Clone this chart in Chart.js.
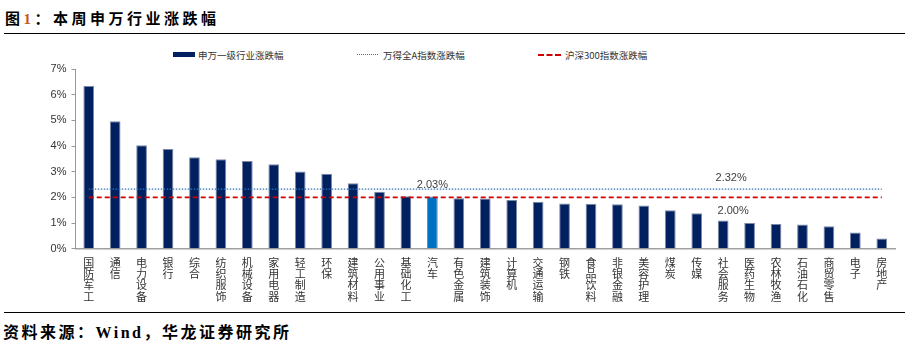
<!DOCTYPE html>
<html>
<head>
<meta charset="utf-8">
<script src="https://cdn.jsdelivr.net/npm/chart.js@4.4.1/dist/chart.umd.min.js"></script>
<style>
    body { margin: 0; background: #fff; width: 911px; height: 351px; overflow: hidden; position: relative; font-family: "Noto Sans CJK SC", sans-serif; }
    .title { position: absolute; left: 5px; top: 6px; font-size: 15px; font-weight: 700; letter-spacing: 3.5px; color: #000; line-height: 24px; }
    .title span { color: #C55A11; font-family: "Liberation Serif", serif; }
    .rule { position: absolute; left: 4px; width: 901px; height: 1.5px; background: #000; }
    .source { position: absolute; left: 3px; top: 320px; font-size: 16px; font-weight: 700; letter-spacing: 2.5px; line-height: 22px; color: #000; }
    .source b { font-family: "Liberation Serif", serif; }
    .legend { position: absolute; font-size: 9.5px; color: #333; line-height: 12px; top: 49px; }
    .mark { position: absolute; }
    #wrap { position: absolute; left: 0; top: 40px; width: 911px; height: 272px; }
</style>
</head>
<body>
<div class="title">图<span>1</span>：本周申万行业涨跌幅</div>
<div class="rule" style="top:32.5px"></div>

<div class="mark" style="left:173px; top:52px; width:22px; height:5px; background:#002060"></div>
<div class="legend" style="left:198px">申万一级行业涨跌幅</div>
<div class="mark" style="left:357px; top:54px; width:21px; border-top:1.5px dotted #2E75B6"></div>
<div class="legend" style="left:383px">万得全A指数涨跌幅</div>
<div class="mark" style="left:538px; top:54px; width:23px; border-top:2px dashed #D00000"></div>
<div class="legend" style="left:565px">沪深300指数涨跌幅</div>

<div id="wrap"><canvas id="industryChart"></canvas></div>

<div class="rule" style="top:311.5px"></div>
<div class="source">资料来源：<b>Wind</b>，华龙证券研究所</div>

<script>
// 申万一级行业
const categories = ['国防军工', '通信', '电力设备', '银行', '综合', '纺织服饰', '机械设备', '家用电器',
    '轻工制造', '环保', '建筑材料', '公用事业', '基础化工', '汽车', '有色金属', '建筑装饰', '计算机',
    '交通运输', '钢铁', '食品饮料', '非银金融', '美容护理', '煤炭', '传媒', '社会服务', '医药生物',
    '农林牧渔', '石油石化', '商贸零售', '电子', '房地产'];

// 本周涨跌幅 (%)
const changes = [6.34, 4.96, 4.03, 3.88, 3.56, 3.48, 3.42, 3.29, 3.01, 2.92, 2.55, 2.22, 2.04, 2.03,
    1.97, 1.96, 1.90, 1.83, 1.76, 1.75, 1.73, 1.68, 1.50, 1.38, 1.10, 1.00, 0.96, 0.94, 0.87, 0.63, 0.40];

// 指数涨跌幅 (%)
const windA = 2.32;
const hs300 = 2.00;

const yTicks = [0, 1, 2, 3, 4, 5, 6, 7];
const highlight = '汽车';

const navy = '#002060';
const blue = '#0070C0';

/**
 * 画数据标签（汽车柱子、两条指数线）
 */
const labelPlugin = {
    id: 'valueLabels',
    afterDatasetsDraw(chart) {
        const { ctx, scales: { x, y } } = chart;
        const idx = categories.indexOf(highlight);
        ctx.save();
        ctx.font = '11px "Liberation Sans", Arial, sans-serif';
        ctx.fillStyle = '#404040';
        ctx.textAlign = 'center';
        ctx.textBaseline = 'middle';
        ctx.fillText(changes[idx].toFixed(2) + '%', x.getPixelForValue(idx), y.getPixelForValue(changes[idx]) - 12);
        ctx.fillText(windA.toFixed(2) + '%', x.getPixelForValue(24) + 8, y.getPixelForValue(windA) - 11.5);
        ctx.fillText(hs300.toFixed(2) + '%', x.getPixelForValue(24) + 10, y.getPixelForValue(hs300) + 13.5);
        ctx.restore();
    }
};

const ctx = document.getElementById('industryChart');
new Chart(ctx, {
    data: {
        labels: categories.map(c => c.split('')),
        datasets: [
            {
                type: 'line',
                label: '万得全A指数涨跌幅',
                data: categories.map(() => windA),
                borderColor: '#2E75B6',
                borderWidth: 1.4,
                borderDash: [1.5, 1.5],
                pointRadius: 0,
                order: 0
            },
            {
                type: 'line',
                label: '沪深300指数涨跌幅',
                data: categories.map(() => hs300),
                borderColor: '#D00000',
                borderWidth: 1.6,
                borderDash: [5, 3],
                pointRadius: 0,
                order: 0
            },
            {
                type: 'bar',
                label: '申万一级行业涨跌幅',
                data: changes,
                backgroundColor: categories.map(c => c === highlight ? blue : navy),
                borderColor: categories.map(c => c === highlight ? '#5b8fc4' : '#7a88a8'),
                borderWidth: 1,
                categoryPercentage: 1,
                barPercentage: 0.405,
                order: 1
            }
        ]
    },
    options: {
        responsive: true,
        maintainAspectRatio: false,
        animation: false,
        layout: { padding: { top: 29, right: 16, left: 0, bottom: 0 } },
        plugins: {
            legend: { display: false },
            tooltip: { enabled: false }
        },
        scales: {
            x: {
                offset: true,
                grid: { display: false, drawTicks: false },
                border: { display: true, color: '#A0A0A0', width: 1.6 },
                ticks: {
                    autoSkip: false,
                    maxRotation: 0,
                    minRotation: 0,
                    padding: 8,
                    color: '#333',
                    font: { family: '"Noto Sans CJK SC", sans-serif', size: 11, lineHeight: 1.03 }
                },
                afterFit: scale => { scale.height = 63.3; }
            },
            y: {
                min: 0,
                max: 7,
                afterBuildTicks: scale => { scale.ticks = yTicks.map(v => ({ value: v })); },
                grid: { display: true, drawOnChartArea: false, drawTicks: true, tickLength: 4, color: '#999' },
                border: { display: true, color: '#999', width: 1 },
                ticks: {
                    padding: 5,
                    color: '#333',
                    font: { family: '"Liberation Sans Narrow", "Liberation Sans", Arial, sans-serif', size: 11 },
                    callback: v => v + '%'
                },
                afterFit: scale => { scale.width = 75.5; }
            }
        }
    },
    plugins: [labelPlugin]
});
</script>
</body>
</html>
